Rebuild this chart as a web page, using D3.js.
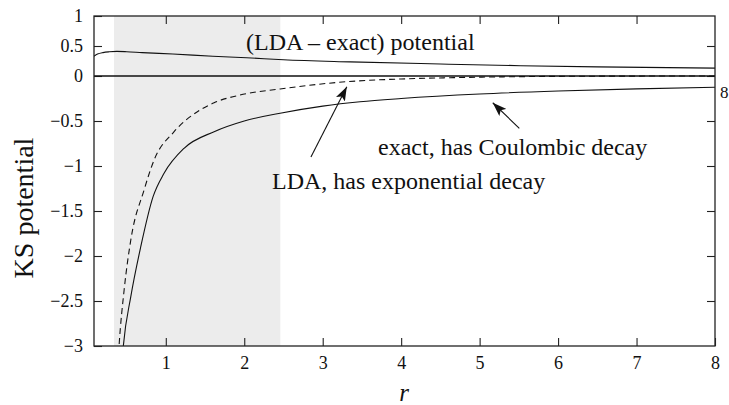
<!DOCTYPE html>
<html>
<head>
<meta charset="utf-8">
<script src="https://cdn.jsdelivr.net/npm/d3@7"></script>
<style>
  body { margin: 0; background: #fff; }
  svg { display: block; font-family: "Liberation Serif", "DejaVu Serif", serif; }
  .tick line { stroke: #222; stroke-width: 1.1; }
</style>
</head>
<body>
<svg width="729" height="405"></svg>
<script>
'use strict';

// exact KS potential (solid), Coulombic tail
const exact_r = [0.44, 0.46, 0.554, 0.681, 0.838, 0.978, 1.233, 1.616, 2.0, 2.457, 3.0, 3.476, 4, 5, 6, 7, 8];
const exact_v = [-3.2, -2.99, -2.452, -1.897, -1.341, -1.081, -0.803, -0.619, -0.50, -0.414, -0.335, -0.286, -0.25, -0.20, -0.167, -0.143, -0.125];

// LDA potential (dashed), exponential tail
const lda_r = [0.39, 0.405, 0.469, 0.554, 0.723, 0.851, 1.106, 1.437, 1.616, 1.947, 2.457, 3.307, 4.0, 4.62, 5.64, 6.5, 8];
const lda_v = [-3.2, -2.99, -2.378, -1.822, -1.267, -0.933, -0.619, -0.378, -0.297, -0.211, -0.144, -0.063, -0.033, -0.019, -0.006, -0.002, 0];

// (LDA - exact) potential
const diff_r = [0.085, 0.13, 0.2, 0.28, 0.375, 0.5, 0.7, 1.09, 1.6, 2.03, 2.5, 3.35, 4.5, 5.52, 6.5, 8];
const diff_v = [0.33, 0.365, 0.39, 0.403, 0.41, 0.405, 0.39, 0.367, 0.33, 0.305, 0.27, 0.235, 0.20, 0.172, 0.152, 0.132];

const shade_r = [0.34, 2.46];

const x_ticks = [1, 2, 3, 4, 5, 6, 7, 8];
const y_ticks = [-3, -2.5, -2, -1.5, -1, -0.5, 0, 0.5, 1];

const svg = d3.select('svg');
const serif = '"Liberation Serif", "DejaVu Serif", serif';

const x = d3.scaleLinear().domain([0.085, 8]).range([94, 715]);
// the positive part of the axis is compressed in the original
const y = d3.scaleLinear().domain([-3, 0, 1]).range([346, 76, 16]);

const fmt = t => (t < 0 ? '\u2212' : '') + Math.abs(t);

svg.append('defs').append('clipPath').attr('id', 'plot-clip')
  .append('rect')
  .attr('x', x(0.085)).attr('y', y(1))
  .attr('width', x(8) - x(0.085)).attr('height', y(-3) - y(1));

// shaded region
svg.append('rect')
  .attr('x', x(shade_r[0])).attr('y', y(1))
  .attr('width', x(shade_r[1]) - x(shade_r[0]))
  .attr('height', y(-3) - y(1))
  .attr('fill', '#ececec');

// axes (ticks pointing inward)
function clean(g) {
  g.attr('font-family', serif).attr('font-size', 18);
  g.selectAll('text').attr('font-family', serif).attr('font-size', 18).attr('fill', '#111');
  g.select('.domain').remove();
}

svg.append('g').attr('transform', `translate(0,${y(-3)})`)
  .call(d3.axisBottom(x).tickValues(x_ticks).tickSize(-8).tickPadding(10).tickFormat(d3.format('d')))
  .call(clean);

svg.append('g').attr('transform', `translate(0,${y(1)})`)
  .call(d3.axisTop(x).tickValues(x_ticks.slice(0, -1)).tickSize(-8).tickFormat(''))
  .call(clean);

svg.append('g').attr('transform', `translate(${x(0.085)},0)`)
  .call(d3.axisLeft(y).tickValues(y_ticks).tickSize(-8).tickPadding(11).tickFormat(fmt))
  .call(clean);

svg.append('g').attr('transform', `translate(${x(8)},0)`)
  .call(d3.axisRight(y).tickValues(y_ticks.slice(1, -1)).tickSize(-8).tickFormat(''))
  .call(clean);

// curves
const plot = svg.append('g').attr('clip-path', 'url(#plot-clip)');

const line = d3.line()
  .x(d => x(d[0]))
  .y(d => y(d[1]))
  .curve(d3.curveMonotoneX);

// zero line
plot.append('line')
  .attr('x1', x(0.085)).attr('x2', x(8))
  .attr('y1', y(0)).attr('y2', y(0))
  .attr('stroke', '#111').attr('stroke-width', 1.7);

plot.append('path')
  .datum(d3.zip(diff_r, diff_v))
  .attr('d', line)
  .attr('fill', 'none').attr('stroke', '#111').attr('stroke-width', 1.1);

plot.append('path')
  .datum(d3.zip(exact_r, exact_v))
  .attr('d', line)
  .attr('fill', 'none').attr('stroke', '#111').attr('stroke-width', 1.1);

plot.append('path')
  .datum(d3.zip(lda_r, lda_v))
  .attr('d', line)
  .attr('fill', 'none').attr('stroke', '#111').attr('stroke-width', 1.1)
  .attr('stroke-dasharray', '6,4');

// frame
svg.append('rect')
  .attr('x', x(0.085)).attr('y', y(1))
  .attr('width', x(8) - x(0.085)).attr('height', y(-3) - y(1))
  .attr('fill', 'none').attr('stroke', '#222').attr('stroke-width', 1.3);

// arrows
svg.select('defs').append('marker')
  .attr('id', 'head')
  .attr('markerUnits', 'userSpaceOnUse')
  .attr('viewBox', '0 0 14 10')
  .attr('refX', 14).attr('refY', 5)
  .attr('markerWidth', 14).attr('markerHeight', 10)
  .attr('orient', 'auto')
  .append('path').attr('d', 'M0,0 L14,5 L0,10 L3,5 Z').attr('fill', '#111');

const arrows = [
  { from: [2.85, -0.90], to: [3.307, -0.119] },
  { from: [5.506, -0.581], to: [5.167, -0.297] }
];

svg.selectAll('.arrow').data(arrows).join('line')
  .attr('class', 'arrow')
  .attr('x1', d => x(d.from[0])).attr('y1', d => y(d.from[1]))
  .attr('x2', d => x(d.to[0])).attr('y2', d => y(d.to[1]))
  .attr('stroke', '#111').attr('stroke-width', 1.1)
  .attr('marker-end', 'url(#head)');

// labels
const labels = [
  { text: '(LDA \u2013 exact) potential', x: 246, y: 50 },
  { text: 'exact, has Coulombic decay', x: 378, y: 155 },
  { text: 'LDA, has exponential decay', x: 272, y: 189 }
];

svg.selectAll('.label').data(labels).join('text')
  .attr('class', 'label')
  .attr('x', d => d.x).attr('y', d => d.y)
  .attr('font-family', serif)
  .attr('font-size', 24).attr('fill', '#111')
  .text(d => d.text);

svg.append('text')
  .attr('x', 720).attr('y', 98)
  .attr('font-family', serif)
  .attr('font-size', 17).attr('fill', '#111')
  .text('8');

svg.append('text')
  .attr('transform', 'translate(33,208) rotate(-90)')
  .attr('text-anchor', 'middle')
  .attr('font-family', serif)
  .attr('font-size', 28).attr('fill', '#111')
  .text('KS potential');

svg.append('text')
  .attr('x', 404).attr('y', 401)
  .attr('text-anchor', 'middle')
  .attr('font-family', serif)
  .attr('font-size', 25).attr('font-style', 'italic').attr('fill', '#111')
  .text('r');
</script>
</body>
</html>
